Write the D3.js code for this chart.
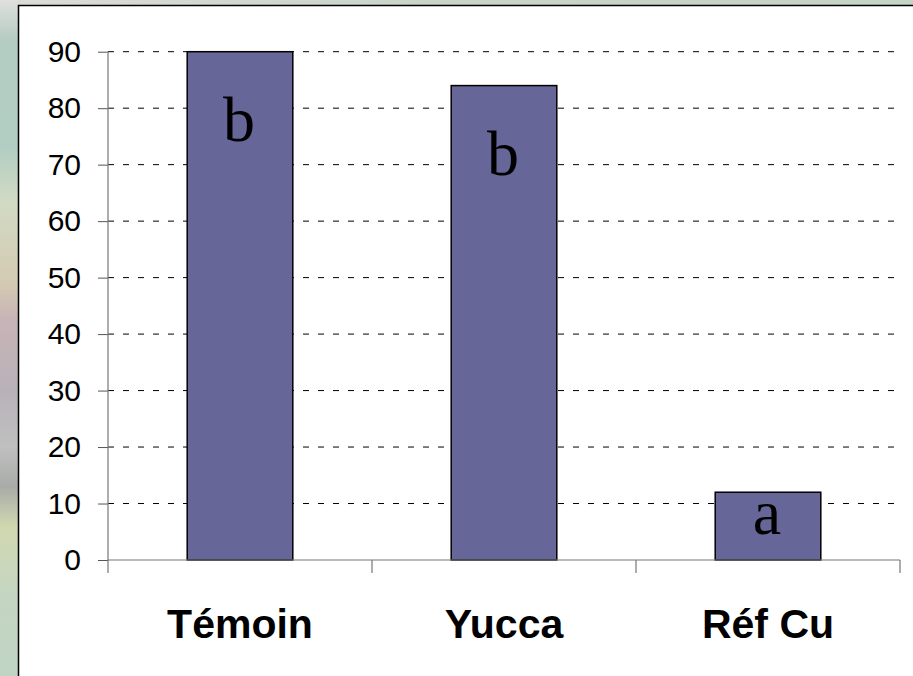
<!DOCTYPE html>
<html lang="fr">
<head>
  <meta charset="UTF-8">
  <title>Témoin / Yucca / Réf Cu</title>
  <script src="https://cdn.jsdelivr.net/npm/d3@7"></script>
  <style>
    html, body { margin: 0; padding: 0; background: #fff; }
    svg { display: block; }
    .tick-label { font: 30px "Liberation Sans", Arial, sans-serif; fill: #000; }
    .cat-label { font: bold 41px "Liberation Sans", Arial, sans-serif; fill: #000; }
    .letter { font: 64px "Liberation Serif", "Times New Roman", serif; fill: #000; }
  </style>
</head>
<body>
<svg width="913" height="676"></svg>
<script>
// data
var categories = ["Témoin", "Yucca", "Réf Cu"];
var values = [90, 84, 12];
var letters = ["b", "b", "a"];
var yTicks = [0, 10, 20, 30, 40, 50, 60, 70, 80, 90];

var svg = d3.select("svg"),
    width = +svg.attr("width"),
    height = +svg.attr("height");

// background strips (slide texture on the left / top)
var defs = svg.append("defs");
var lg = defs.append("linearGradient").attr("id", "leftbg")
    .attr("x1", 0).attr("y1", 0).attr("x2", 0).attr("y2", 1);
[[0, "#e0e0dc"], [0.06, "#b4ccc2"], [0.22, "#b2cec2"], [0.3, "#d2dac4"],
 [0.42, "#d4cab2"], [0.47, "#c8b4b6"], [0.58, "#b8b2b8"], [0.66, "#c0c0c0"],
 [0.72, "#a8aca8"], [0.78, "#d0d8b0"], [0.88, "#c4d6c2"], [1, "#c0d4c4"]]
  .forEach(function(s) { lg.append("stop").attr("offset", s[0]).attr("stop-color", s[1]); });

var tg = defs.append("linearGradient").attr("id", "topbg")
    .attr("x1", 0).attr("y1", 0).attr("x2", 1).attr("y2", 0);
[[0, "#dcdcd8"], [0.5, "#c8d4c8"], [1, "#c4d4c6"]]
  .forEach(function(s) { tg.append("stop").attr("offset", s[0]).attr("stop-color", s[1]); });

svg.append("rect").attr("x", 0).attr("y", 0).attr("width", width).attr("height", 6)
    .attr("fill", "url(#topbg)");
svg.append("rect").attr("x", 0).attr("y", 0).attr("width", 18).attr("height", height)
    .attr("fill", "url(#leftbg)");

// white panel
svg.append("rect")
    .attr("x", 18.5).attr("y", 5.5)
    .attr("width", width + 10).attr("height", height + 10)
    .attr("fill", "#fff").attr("stroke", "#000").attr("stroke-width", 1.5);

var margin = {left: 108, right: 13, top: 51.7, bottom: 116};
var x = d3.scaleBand()
    .domain(categories)
    .range([margin.left, width - margin.right])
    .paddingInner(0.6)
    .paddingOuter(0.3);

var y = d3.scaleLinear()
    .domain([0, 90])
    .range([height - margin.bottom, margin.top]);

// dashed gridlines
svg.append("g")
  .selectAll("line")
  .data(yTicks.filter(function(d) { return d > 0; }))
  .enter().append("line")
    .attr("x1", margin.left).attr("x2", width - margin.right)
    .attr("y1", function(d) { return y(d); })
    .attr("y2", function(d) { return y(d); })
    .attr("stroke", "#000").attr("stroke-width", 1)
    .attr("stroke-dasharray", "6,9");

// y axis
var yAxis = svg.append("g")
    .attr("transform", "translate(" + margin.left + ",0)")
    .call(d3.axisLeft(y).tickValues(yTicks).tickSize(10).tickPadding(17).tickSizeOuter(0));
yAxis.select(".domain").remove();
yAxis.selectAll(".tick line").attr("stroke", "#555");
yAxis.selectAll(".tick text").attr("class", "tick-label").attr("font-family", null).attr("font-size", null);
svg.append("line")
    .attr("x1", margin.left).attr("x2", margin.left)
    .attr("y1", y(90)).attr("y2", y(0) + 13)
    .attr("stroke", "#777").attr("stroke-width", 1.2);

// bars
svg.append("g")
  .selectAll("rect")
  .data(values)
  .enter().append("rect")
    .attr("x", function(d, i) { return x(categories[i]); })
    .attr("y", function(d) { return y(d); })
    .attr("width", x.bandwidth())
    .attr("height", function(d) { return y(0) - y(d); })
    .attr("fill", "#666699")
    .attr("stroke", "#000")
    .attr("stroke-width", 1.5);

// x axis
svg.append("line")
    .attr("x1", margin.left).attr("x2", width - margin.right)
    .attr("y1", y(0)).attr("y2", y(0))
    .attr("stroke", "#777").attr("stroke-width", 1.2);
var step = x.step();
var bounds = d3.range(categories.length + 1).map(function(i) { return margin.left + i * step; });
svg.append("g")
  .selectAll("line")
  .data(bounds.slice(1))
  .enter().append("line")
    .attr("x1", function(d) { return d; }).attr("x2", function(d) { return d; })
    .attr("y1", y(0)).attr("y2", y(0) + 13)
    .attr("stroke", "#777").attr("stroke-width", 1.2);

svg.append("g")
  .selectAll("text")
  .data(categories)
  .enter().append("text")
    .attr("class", "cat-label")
    .attr("x", function(d) { return x(d) + x.bandwidth() / 2; })
    .attr("y", y(0) + 78)
    .attr("text-anchor", "middle")
    .text(function(d) { return d; });

// significance letters
svg.append("g")
  .selectAll("text")
  .data(letters)
  .enter().append("text")
    .attr("class", "letter")
    .attr("x", function(d, i) { return x(categories[i]) + x.bandwidth() / 2 - 1; })
    .attr("y", function(d, i) { return Math.min(y(values[i]) + 89, y(0) - 26); })
    .attr("text-anchor", "middle")
    .text(function(d) { return d; });
</script>
</body>
</html>
